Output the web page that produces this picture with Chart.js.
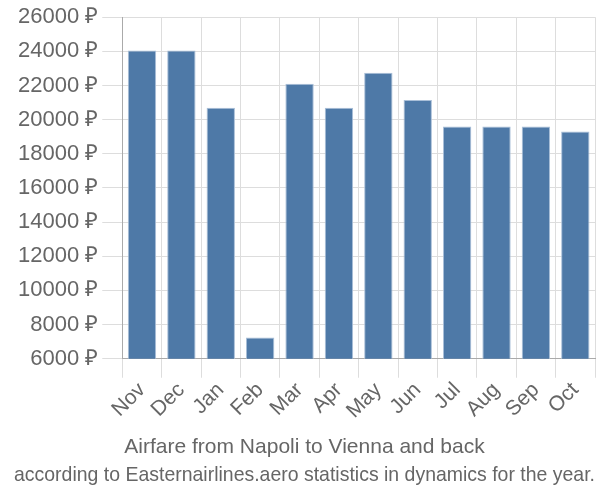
<!DOCTYPE html>
<html>
<head>
<meta charset="utf-8">
<script src="https://cdn.jsdelivr.net/npm/chart.js@4"></script>
<style>
  html, body { margin: 0; padding: 0; background: #fff; }
  #wrap { width: 600px; height: 500px; }
</style>
</head>
<body>
<div id="wrap"><canvas id="chart"></canvas></div>
<script>
// Monthly airfare, rubles
const months = ['Nov','Dec','Jan','Feb','Mar','Apr','May','Jun','Jul','Aug','Sep','Oct'];
const prices = [24050, 24050, 20700, 7250, 22100, 20700, 22750, 21150, 19600, 19600, 19600, 19300];
const yTicks = [6000, 8000, 10000, 12000, 14000, 16000, 18000, 20000, 22000, 24000, 26000];

const font = '"Liberation Sans", Arial, sans-serif';

new Chart(document.getElementById('chart'), {
  type: 'bar',
  data: {
    labels: months,
    datasets: [{
      data: prices,
      backgroundColor: '#4e79a7',
      borderColor: '#a9bfd8',
      borderWidth: { top: 1, left: 1, right: 1, bottom: 0 },
      barPercentage: 0.72,
      categoryPercentage: 1
    }]
  },
  options: {
    responsive: true,
    maintainAspectRatio: false,
    animation: false,
    layout: { padding: { left: 14, right: 5, top: 0, bottom: 12 } },
    plugins: {
      legend: { display: false },
      tooltip: { enabled: false },
      title: {
        display: true,
        position: 'bottom',
        weight: 1400,
        text: 'Airfare from Napoli to Vienna and back',
        color: '#666',
        font: { family: font, size: 21, weight: 'normal' },
        padding: { top: 11, bottom: 0 }
      },
      subtitle: {
        display: true,
        position: 'bottom',
        weight: 1500,
        text: 'according to Easternairlines.aero statistics in dynamics for the year.',
        color: '#666',
        font: { family: font, size: 21, weight: 'normal' },
        padding: { top: 3, bottom: 0 }
      }
    },
    scales: {
      x: {
        grid: { color: '#dddddd', tickLength: 19, offset: true },
        border: { color: '#aaaaaa' },
        ticks: {
          color: '#666',
          font: { family: font, size: 21 },
          autoSkip: false,
          maxRotation: 45,
          minRotation: 45,
          padding: 0
        }
      },
      y: {
        min: 6000,
        max: 26000,
        afterBuildTicks: axis => { axis.ticks = yTicks.map(v => ({ value: v })); },
        grid: { color: '#dddddd', tickLength: 20 },
        border: { color: '#aaaaaa' },
        ticks: {
          color: '#666',
          font: { family: font, size: 22 },
          padding: 4,
          callback: v => v + ' ₽'
        }
      }
    }
  }
});
</script>
</body>
</html>
